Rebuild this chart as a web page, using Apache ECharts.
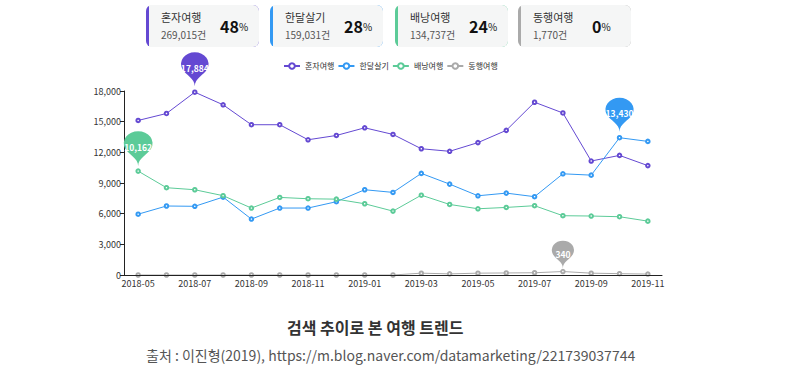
<!DOCTYPE html>
<html><head><meta charset="utf-8">
<script src="https://cdn.jsdelivr.net/npm/echarts@6/dist/echarts.min.js"></script>
<style>html,body{margin:0;padding:0;background:#fff;}#c{width:795px;height:373px;}</style>
</head><body><div id="c"></div>
<script>
const months = ['2018-05','2018-06','2018-07','2018-08','2018-09','2018-10','2018-11','2018-12','2019-01','2019-02','2019-03','2019-04','2019-05','2019-06','2019-07','2019-08','2019-09','2019-10','2019-11'];
const seriesNames = ['혼자여행','한달살기','배낭여행','동행여행'];
const solo = [15120,15800,17884,16650,14700,14700,13230,13650,14400,13750,12350,12100,12950,14150,16900,15850,11150,11700,10700];
const monthStay = [5950,6750,6720,7620,5470,6550,6550,7170,8340,8080,9940,8890,7750,8010,7660,9900,9770,13430,13070];
const backpack = [10162,8540,8340,7760,6550,7590,7460,7420,6970,6250,7810,6900,6480,6610,6780,5800,5770,5700,5270];
const companion = [0,0,0,0,0,0,0,0,0,0,180,110,180,200,220,340,180,130,90];
const cardCounts = ['269,015건','159,031건','134,737건','1,770건'];
const cardPercents = ['48','28','24','0'];
const yTicks = [0,3000,6000,9000,12000,15000,18000];
const titleText = '검색 추이로 본 여행 트렌드';
const sourceText = '출처 : 이진형(2019), https://m.blog.naver.com/datamarketing/221739037744';

const colors = ['#6449d2','#3399f3','#5ccb98','#aaaaaa'];
const font = '"Noto Sans CJK KR","Noto Sans",sans-serif';
const fmt = v => Number(v).toLocaleString('en-US');

const chart = echarts.init(document.getElementById('c'), null, {renderer:'svg'});

const cardX = [146, 270, 395, 518];
const graphics = [];
seriesNames.forEach((n,i)=>{
  const x = cardX[i];
  graphics.push({type:'group', left:x, top:5, children:[
    {type:'rect', shape:{x:0,y:0,width:113,height:42,r:6}, style:{fill:colors[i]}},
    {type:'rect', shape:{x:3,y:0,width:110,height:42,r:[0,6,6,0]}, style:{fill:'#f5f6f6'}},
    {type:'text', x:15, y:12, style:{text:n, font:'11px '+font, fill:'#333', textVerticalAlign:'middle'}},
    {type:'text', x:15, y:29, style:{text:cardCounts[i], font:'10px '+font, fill:'#555', textVerticalAlign:'middle'}},
    {type:'text', x:74, y:21, style:{text:'{a|'+cardPercents[i]+'}{b|%}', textVerticalAlign:'middle',
      rich:{a:{fontSize:16,fontWeight:'bold',fontFamily:font,fill:'#111',color:'#111'},b:{fontSize:10,fontFamily:font,fill:'#111',color:'#111'}}}}
  ]});
});
graphics.push({type:'text', left:287, top:319, style:{text:titleText, font:'bold 16px '+font, fill:'#333'}});
graphics.push({type:'text', left:146, top:348, style:{text:sourceText, font:'14px '+font, fill:'#555'}});

const data = [solo, monthStay, backpack, companion];
const pinSizes = [[46,39],[47,39],[48,40],[37,32]];
const pinOffsets = [[0,-6],[0,-6],[0,-5],[0,-3]];
chart.setOption({
  animation:false,
  color:colors,
  textStyle:{fontFamily:font},
  legend:{top:57, left:278, itemWidth:16, itemHeight:7, itemGap:3,
    textStyle:{fontSize:8, color:'#333', fontFamily:font},
    data:seriesNames},
  grid:{left:124, right:133, top:91, bottom:98},
  xAxis:{type:'category', data:months, boundaryGap:true, z:5,
    axisLine:{lineStyle:{color:'#222', width:1}},
    axisTick:{show:false},
    axisLabel:{interval:1, fontSize:9, color:'#333', margin:4}},
  yAxis:{type:'value', min:0, max:18000, interval:3000,
    axisLine:{show:true, lineStyle:{color:'#222'}},
    axisTick:{show:true, length:4, lineStyle:{color:'#222'}},
    splitLine:{show:false},
    axisLabel:{fontSize:9, color:'#333', margin:3, formatter:v=>fmt(v)}},
  graphic:graphics,
  series: seriesNames.map((n,i)=>({
    name:n, type:'line', data:data[i],
    symbol:'emptyCircle', symbolSize:3.5, showSymbol:true,
    lineStyle:{width:1}, itemStyle:{borderWidth:1},
    markPoint:{symbol:'pin', symbolSize:pinSizes[i], symbolOffset:pinOffsets[i],
      data:[{type:'max'}],
      label:{color:'#fff', fontSize:8.5, fontWeight:'bold', offset:[0,2], formatter:p=>fmt(p.value)},
      itemStyle:{color:colors[i]}}
  }))
});
</script></body></html>
